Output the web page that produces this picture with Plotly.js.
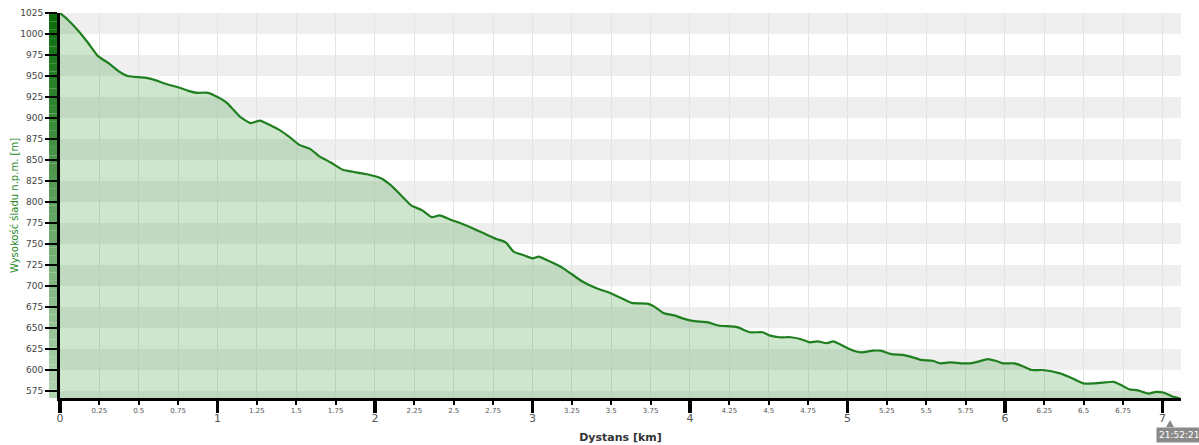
<!DOCTYPE html>
<html>
<head>
<meta charset="utf-8">
<script src="https://cdn.plot.ly/plotly-3.0.1.min.js"></script>
<style>html,body{margin:0;padding:0;background:#fff;}#chart{width:1199px;height:445px;}</style>
</head>
<body>
<div id="chart"></div>
<script>
// Distance along the track [km]
const distanceKm = [0, 0.05, 0.12, 0.18, 0.24, 0.31, 0.37, 0.43, 0.47, 0.54, 0.59, 0.65, 0.70, 0.76, 0.82, 0.87, 0.94, 1.00, 1.06, 1.10, 1.14, 1.21, 1.27, 1.33, 1.40, 1.46, 1.52, 1.59, 1.65, 1.72, 1.80, 1.86, 1.95, 2.04, 2.10, 2.16, 2.23, 2.30, 2.36, 2.41, 2.48, 2.54, 2.63, 2.71, 2.77, 2.83, 2.88, 2.94, 3.00, 3.04, 3.09, 3.18, 3.25, 3.32, 3.41, 3.49, 3.56, 3.63, 3.73, 3.77, 3.83, 3.90, 3.98, 4.04, 4.11, 4.18, 4.30, 4.38, 4.46, 4.51, 4.57, 4.64, 4.70, 4.76, 4.81, 4.87, 4.91, 4.98, 5.04, 5.09, 5.16, 5.21, 5.28, 5.35, 5.40, 5.47, 5.54, 5.59, 5.65, 5.72, 5.78, 5.83, 5.89, 5.94, 5.99, 6.06, 6.12, 6.17, 6.24, 6.35, 6.43, 6.50, 6.56, 6.62, 6.69, 6.74, 6.79, 6.84, 6.91, 6.96, 7.01, 7.07, 7.11];
// Elevation above sea level [m]
const elevationM = [1025, 1017, 1003, 989, 974, 965, 956, 950, 949, 948, 946, 942, 939, 936, 932, 930, 930, 925, 918, 910, 902, 894, 897, 892, 885, 877, 868, 863, 854, 847, 838, 836, 833, 828, 820, 809, 796, 790, 782, 784, 779, 775, 768, 761, 756, 752, 741, 737, 733, 735, 731, 723, 714, 705, 697, 692, 686, 680, 679, 676, 668, 665, 660, 658, 657, 653, 651, 645, 645, 641, 639, 639, 637, 633, 634, 632, 634, 628, 623, 621, 623, 623, 619, 618, 616, 612, 611, 608, 609, 608, 608, 610, 613, 611, 608, 608, 604, 600, 600, 596, 590, 584, 584, 585, 586, 582, 577, 576, 572, 574, 573, 568, 566];

const yTickVals = [575, 600, 625, 650, 675, 700, 725, 750, 775, 800, 825, 850, 875, 900, 925, 950, 975, 1000, 1025];
const xMajorTicks = [0, 1, 2, 3, 4, 5, 6, 7];
const xMajorLabels = ['0', '1', '2', '3', '4', '5', '6', '7'];
const xMinorTicks = [0.25, 0.5, 0.75, 1.25, 1.5, 1.75, 2.25, 2.5, 2.75, 3.25, 3.5, 3.75, 4.25, 4.5, 4.75, 5.25, 5.5, 5.75, 6.25, 6.5, 6.75];
const xMinorLabels = ['0.25', '0.5', '0.75', '1.25', '1.5', '1.75', '2.25', '2.5', '2.75', '3.25', '3.5', '3.75', '4.25', '4.5', '4.75', '5.25', '5.5', '5.75', '6.25', '6.5', '6.75'];
const xTitle = 'Dystans [km]';
const yTitle = 'Wysokość śladu n.p.m. [m]';
const timeLabel = '21:52:21';

const yMin = 566.7, yMax = 1025, xMax = 7.118;

const shapes = [];
// alternating grey bands
for (let v = 1025; v > yMin; v -= 50) {
  shapes.push({type: 'rect', xref: 'paper', yref: 'y', x0: 0, x1: 1, y0: v - 25, y1: v,
    fillcolor: '#efefef', line: {width: 0}, layer: 'below'});
}
// gradient elevation bar left of the y axis
const steps = 46;
for (let i = 0; i < steps; i++) {
  const t0 = i / steps, t1 = (i + 1) / steps;
  const y0 = yMin + (yMax - yMin) * t0, y1 = yMin + (yMax - yMin) * t1;
  const t = (t0 + t1) / 2; // 0 bottom, 1 top
  const r = Math.round(180 - 172 * t), g = Math.round(214 - 106 * t), b = Math.round(180 - 172 * t);
  shapes.push({type: 'rect', xref: 'paper', yref: 'y', x0: -11 / 1121, x1: 0, y0: y0, y1: y1,
    fillcolor: 'rgb(' + r + ',' + g + ',' + b + ')', line: {width: 0}, layer: 'below'});
}
// pointer of the time label
shapes.push({type: 'path', xref: 'paper', yref: 'paper',
  path: 'M 0.9866 -0.0757 L 0.9938 -0.0757 L 0.9902 -0.0571 Z',
  fillcolor: '#8a8a8a', line: {width: 0}});

const traces = [
  {x: distanceKm, y: elevationM, type: 'scatter', mode: 'lines', fill: 'tozeroy',
    fillcolor: 'rgba(34,139,34,0.22)', line: {color: '#1f7f1f', width: 2.2, shape: 'spline', smoothing: 0.5},
    hoverinfo: 'x+y', showlegend: false},
  {x: [null], y: [null], xaxis: 'x2', yaxis: 'y', type: 'scatter', mode: 'lines', showlegend: false, hoverinfo: 'skip'}
];

const layout = {
  width: 1199, height: 445,
  margin: {l: 60, r: 18, t: 13, b: 47},
  paper_bgcolor: '#ffffff', plot_bgcolor: '#ffffff',
  showlegend: false,
  font: {family: 'DejaVu Sans, Verdana, sans-serif', color: '#444'},
  xaxis: {
    range: [0, xMax], tickmode: 'array', tickvals: xMajorTicks, ticktext: xMajorLabels,
    ticks: 'outside', ticklen: 12, tickwidth: 3.5, tickcolor: '#000',
    tickfont: {size: 11, color: '#555'}, ticklabelstandoff: -4,
    showline: true, linecolor: '#000', linewidth: 3,
    showgrid: true, gridcolor: '#e4e4e4', gridwidth: 1, zeroline: false,
    title: {text: xTitle, font: {size: 11, color: '#333', family: 'DejaVu Sans, Verdana, sans-serif', weight: 'bold'}, standoff: 10}
  },
  xaxis2: {
    overlaying: 'x', anchor: 'y', side: 'bottom', range: [0, xMax],
    tickmode: 'array', tickvals: xMinorTicks, ticktext: xMinorLabels,
    ticks: 'outside', ticklen: 6, tickwidth: 2, tickcolor: '#000',
    tickfont: {size: 7, color: '#555'},
    showline: false, showgrid: true, gridcolor: '#e4e4e4', gridwidth: 1, zeroline: false
  },
  yaxis: {
    range: [yMin, yMax], tickmode: 'array', tickvals: yTickVals,
    ticks: 'outside', ticklen: 12, tickwidth: 2, tickcolor: '#000',
    tickfont: {size: 9, color: '#444'},
    showline: true, linecolor: '#000', linewidth: 3,
    showgrid: false, zeroline: false,
    title: {text: yTitle, font: {size: 10, color: '#2a8a2a'}, standoff: 0}
  },
  shapes: shapes,
  annotations: [{
    xref: 'paper', yref: 'paper', x: 0.9978, y: -0.0974, xanchor: 'center', yanchor: 'middle',
    text: timeLabel, showarrow: false, bgcolor: '#8a8a8a', borderpad: 2,
    font: {size: 9, color: '#ffffff'}
  }]
};

Plotly.newPlot('chart', traces, layout, {displayModeBar: false, staticPlot: true});
</script>
</body>
</html>
